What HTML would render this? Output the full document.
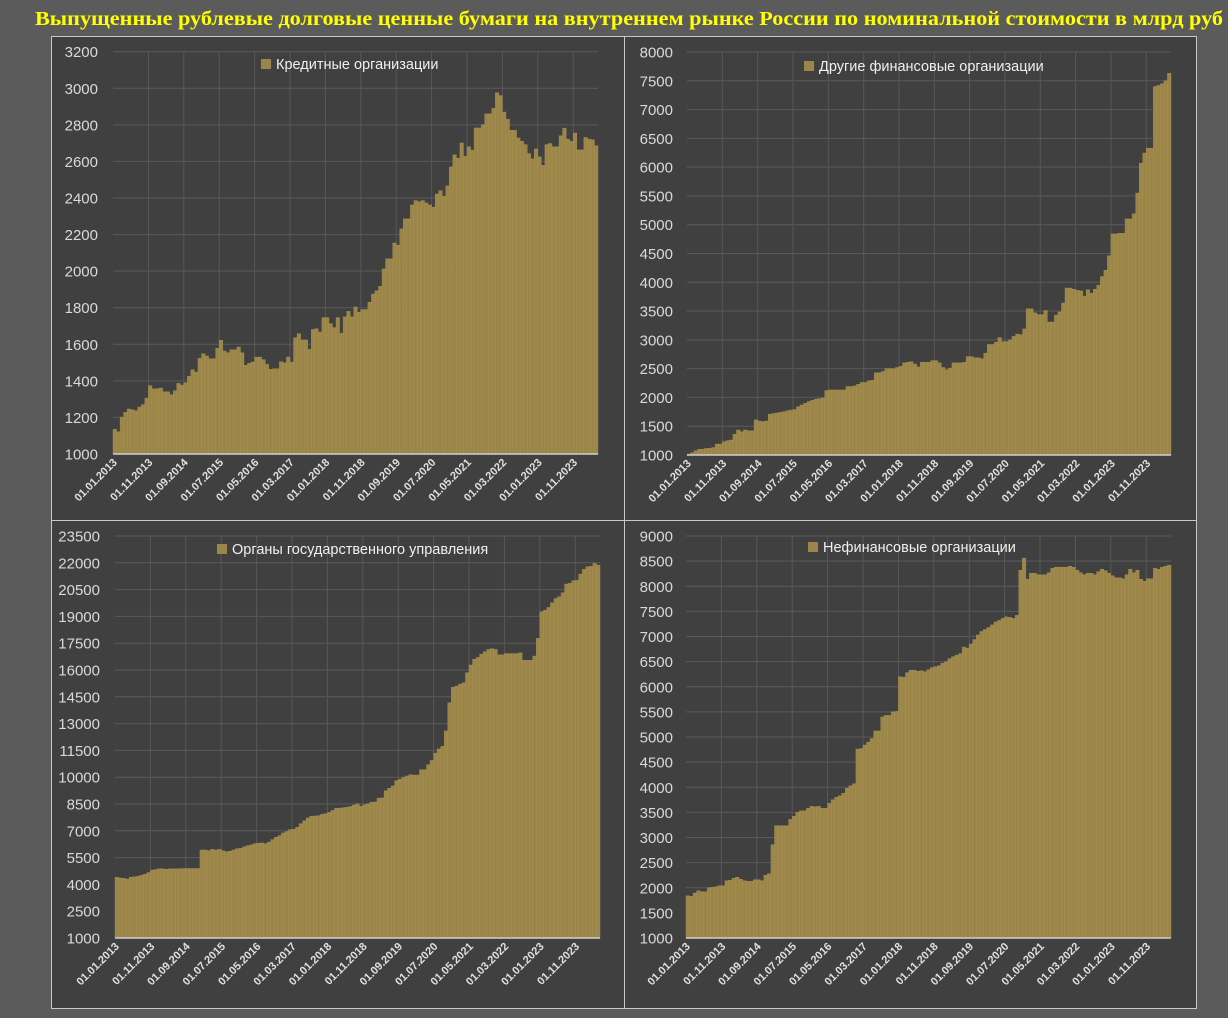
<!DOCTYPE html>
<html><head><meta charset="utf-8"><style>
html,body{margin:0;padding:0;background:#5b5b5b;}
svg{display:block;font-family:"Liberation Sans",sans-serif;}
</style></head><body>
<svg id="chart" width="1228" height="1018" viewBox="0 0 1228 1018" xmlns="http://www.w3.org/2000/svg">
<rect x="0" y="0" width="1228" height="1018" fill="#5b5b5b"/>
<text x="35" y="25" font-family="Liberation Serif, serif" font-weight="bold" font-size="20" fill="#ffff00" textLength="1188" lengthAdjust="spacingAndGlyphs">Выпущенные рублевые долговые ценные бумаги на внутреннем рынке России по номинальной стоимости в млрд руб</text>
</svg>
<script>
const xLabels = ["01.01.2013","01.11.2013","01.09.2014","01.07.2015","01.05.2016","01.03.2017","01.01.2018","01.11.2018","01.09.2019","01.07.2020","01.05.2021","01.03.2022","01.01.2023","01.11.2023"];
const credit = [1135,1122,1202,1228,1246,1242,1237,1257,1270,1306,1374,1357,
1357,1361,1341,1340,1324,1346,1386,1377,1390,1425,1461,1448,
1523,1548,1536,1521,1521,1578,1622,1563,1554,1570,1570,1585,
1554,1485,1496,1503,1530,1530,1516,1490,1463,1466,1466,1505,
1499,1530,1503,1636,1658,1624,1624,1572,1681,1685,1667,1746,
1746,1713,1691,1746,1660,1750,1780,1750,1804,1776,1790,1790,
1830,1875,1893,1917,2012,2067,2067,2154,2142,2231,2286,2286,
2362,2386,2380,2386,2373,2362,2350,2422,2440,2410,2466,2570,
2636,2618,2701,2629,2680,2662,2783,2783,2801,2860,2860,2890,
2975,2960,2870,2830,2770,2770,2728,2710,2692,2643,2614,2668,
2625,2578,2692,2698,2680,2680,2740,2782,2722,2710,2755,2663,
2663,2731,2722,2718,2686];
const otherFin = [1017,1040,1075,1100,1100,1115,1115,1130,1190,1190,1230,1250,
1260,1360,1435,1405,1435,1420,1420,1610,1590,1580,1590,1710,
1720,1730,1740,1750,1770,1780,1790,1840,1870,1900,1930,1950,
1970,1980,1990,2120,2130,2130,2130,2130,2130,2190,2190,2200,
2230,2260,2260,2290,2300,2430,2430,2450,2500,2500,2500,2520,
2540,2600,2610,2620,2580,2530,2610,2610,2610,2640,2640,2600,
2520,2480,2510,2600,2600,2600,2610,2710,2710,2690,2690,2670,
2770,2920,2920,2960,3040,2970,2970,3000,3060,3100,3090,3190,
3540,3540,3470,3440,3440,3510,3310,3310,3430,3485,3640,3900,
3900,3880,3860,3850,3760,3870,3810,3880,3950,4100,4210,4460,
4840,4840,4850,4850,5100,5100,5190,5550,6070,6245,6330,6330,
7400,7420,7450,7500,7630];
const government = [4397,4360,4340,4300,4397,4430,4450,4510,4570,4660,4800,4830,
4870,4870,4850,4870,4870,4870,4880,4890,4890,4890,4890,4890,
5925,5925,5890,5960,5925,5960,5890,5830,5860,5925,6000,6020,
6100,6170,6210,6280,6300,6320,6280,6360,6510,6640,6730,6880,
6960,7070,7090,7200,7400,7570,7720,7810,7830,7850,7920,7960,
8030,8140,8260,8270,8290,8320,8360,8440,8510,8370,8460,8520,
8600,8610,8830,8840,9245,9380,9510,9810,9880,9990,10070,10140,
10120,10120,10420,10420,10700,10940,11350,11580,11730,12590,14170,15030,
15100,15210,15290,15850,16280,16600,16700,16890,17020,17150,17190,17150,
16850,16850,16920,16920,16920,16920,16960,16550,16550,16550,16780,17770,
19260,19350,19500,19760,20000,20100,20320,20810,20850,21000,21030,21370,
21630,21780,21800,21960,21870];
const nonFin = [1842,1830,1895,1940,1920,1920,2000,2010,2020,2040,2040,2140,
2150,2190,2210,2170,2140,2130,2130,2160,2160,2140,2250,2280,
2855,3235,3235,3235,3235,3360,3420,3500,3530,3530,3580,3620,
3610,3620,3580,3580,3680,3750,3800,3830,3880,3980,4030,4070,
4760,4770,4840,4900,4970,5120,5120,5400,5430,5430,5500,5510,
6200,6190,6280,6330,6330,6310,6320,6300,6340,6380,6400,6420,
6470,6500,6560,6600,6630,6660,6790,6770,6850,6940,7030,7100,
7140,7180,7230,7290,7320,7360,7390,7380,7360,7420,8320,8560,
8140,8260,8260,8230,8230,8230,8270,8360,8380,8380,8380,8380,
8400,8380,8320,8270,8230,8260,8260,8230,8290,8340,8310,8260,
8210,8170,8170,8150,8230,8340,8270,8320,8140,8100,8150,8150,
8360,8340,8380,8400,8420];

const NS = "http://www.w3.org/2000/svg";
const svg = document.getElementById("chart");
function mk(tag, attrs, parent){ const e=document.createElementNS(NS,tag); for(const k in attrs) e.setAttribute(k,attrs[k]); (parent||svg).appendChild(e); return e; }

function drawPanel(p, values, legendText){
  const g = mk("g",{});
  
  
  const bg = mk("rect",{x:p.bx,y:p.by,width:p.bw,height:p.bh,fill:"#404040",stroke:"#c8c8c8","stroke-width":1},g);
  
  
  const n = values.length;
  const step = (p.x1 - p.x0) / n;
  const xs = i => p.x0 + i*step;
  const ys = v => p.y0 - (v - p.vmin) / (p.vmax - p.vmin) * (p.y0 - p.y1);
  // horizontal gridlines + y labels
  for(let v=p.vmin; v<=p.vmax+0.01; v+=p.vstep){
    const y = ys(v);
    if(v>p.vmin){
      const gl = mk("line",{x1:p.x0,x2:p.x1,y1:y,y2:y,stroke:"#5a5a5a","stroke-width":1},g);
      
      
    }
    const t = mk("text",{x:p.lx,y:y+5.5,"text-anchor":"end","font-size":15,fill:"#d9d9d9"},g);
    t.textContent = String(v);
    
    
  }
  // vertical gridlines
  for(let i=10;i<n;i+=10){
    const vl = mk("line",{x1:xs(i),x2:xs(i),y1:p.y1,y2:p.y0,stroke:"#585858","stroke-width":1},g);
    
    
  }
  // bars
  values.forEach((v,i)=>{
    const y = ys(v);
    const b = mk("rect",{x:xs(i),y:y,width:step,height:p.y0-y,fill:"#9b8548",stroke:"#ab9555","stroke-width":0.4},g);
    
    
  });
  const base = mk("line",{x1:p.x0,x2:p.x1,y1:p.y0,y2:p.y0,stroke:"#d0d0d0","stroke-width":1.5},g);
  
  
  // x labels
  xLabels.forEach((lab,k)=>{
    const cx = xs(k*10) + step/2 + 3;
    const cy = p.y0 + 9;
    const t = mk("text",{x:cx,y:cy,"text-anchor":"end","font-size":11,"font-weight":"bold",fill:"#e0e0e0",transform:`rotate(-45 ${cx} ${cy})`},g);
    t.textContent = lab;
    
    
  });
  // legend
  const lg = mk("g",{},g);
  
  
  const sq = mk("rect",{x:p.legx,y:p.legy-5,width:10,height:10,fill:"#9b8548"},lg);
  
  
  const lt = mk("text",{x:p.legx+15,y:p.legy+5,"font-size":14.5,fill:"#f0f0f0"},lg);
  lt.textContent = legendText;
  
  
}

drawPanel({name:"credit-organizations-panel",bx:51.5,by:36.5,bw:573,bh:484,x0:113,x1:598,y0:454,y1:51.7,vmin:1000,vmax:3200,vstep:200,lx:98,legx:261,legy:64}, credit, "Кредитные организации");
drawPanel({name:"other-financial-panel",bx:624.5,by:36.5,bw:572,bh:484,x0:687,x1:1171,y0:455,y1:52,vmin:1000,vmax:8000,vstep:500,lx:673,legx:804,legy:66}, otherFin, "Другие финансовые организации");
drawPanel({name:"government-panel",bx:51.5,by:520.5,bw:573,bh:488,x0:115,x1:600,y0:938,y1:536,vmin:1000,vmax:23500,vstep:1500,lx:100,legx:217,legy:549}, government, "Органы государственного управления");
drawPanel({name:"non-financial-panel",bx:624.5,by:520.5,bw:572,bh:488,x0:686,x1:1171,y0:938,y1:536,vmin:1000,vmax:9000,vstep:500,lx:673,legx:808,legy:547}, nonFin, "Нефинансовые организации");
</script>
</body></html>
